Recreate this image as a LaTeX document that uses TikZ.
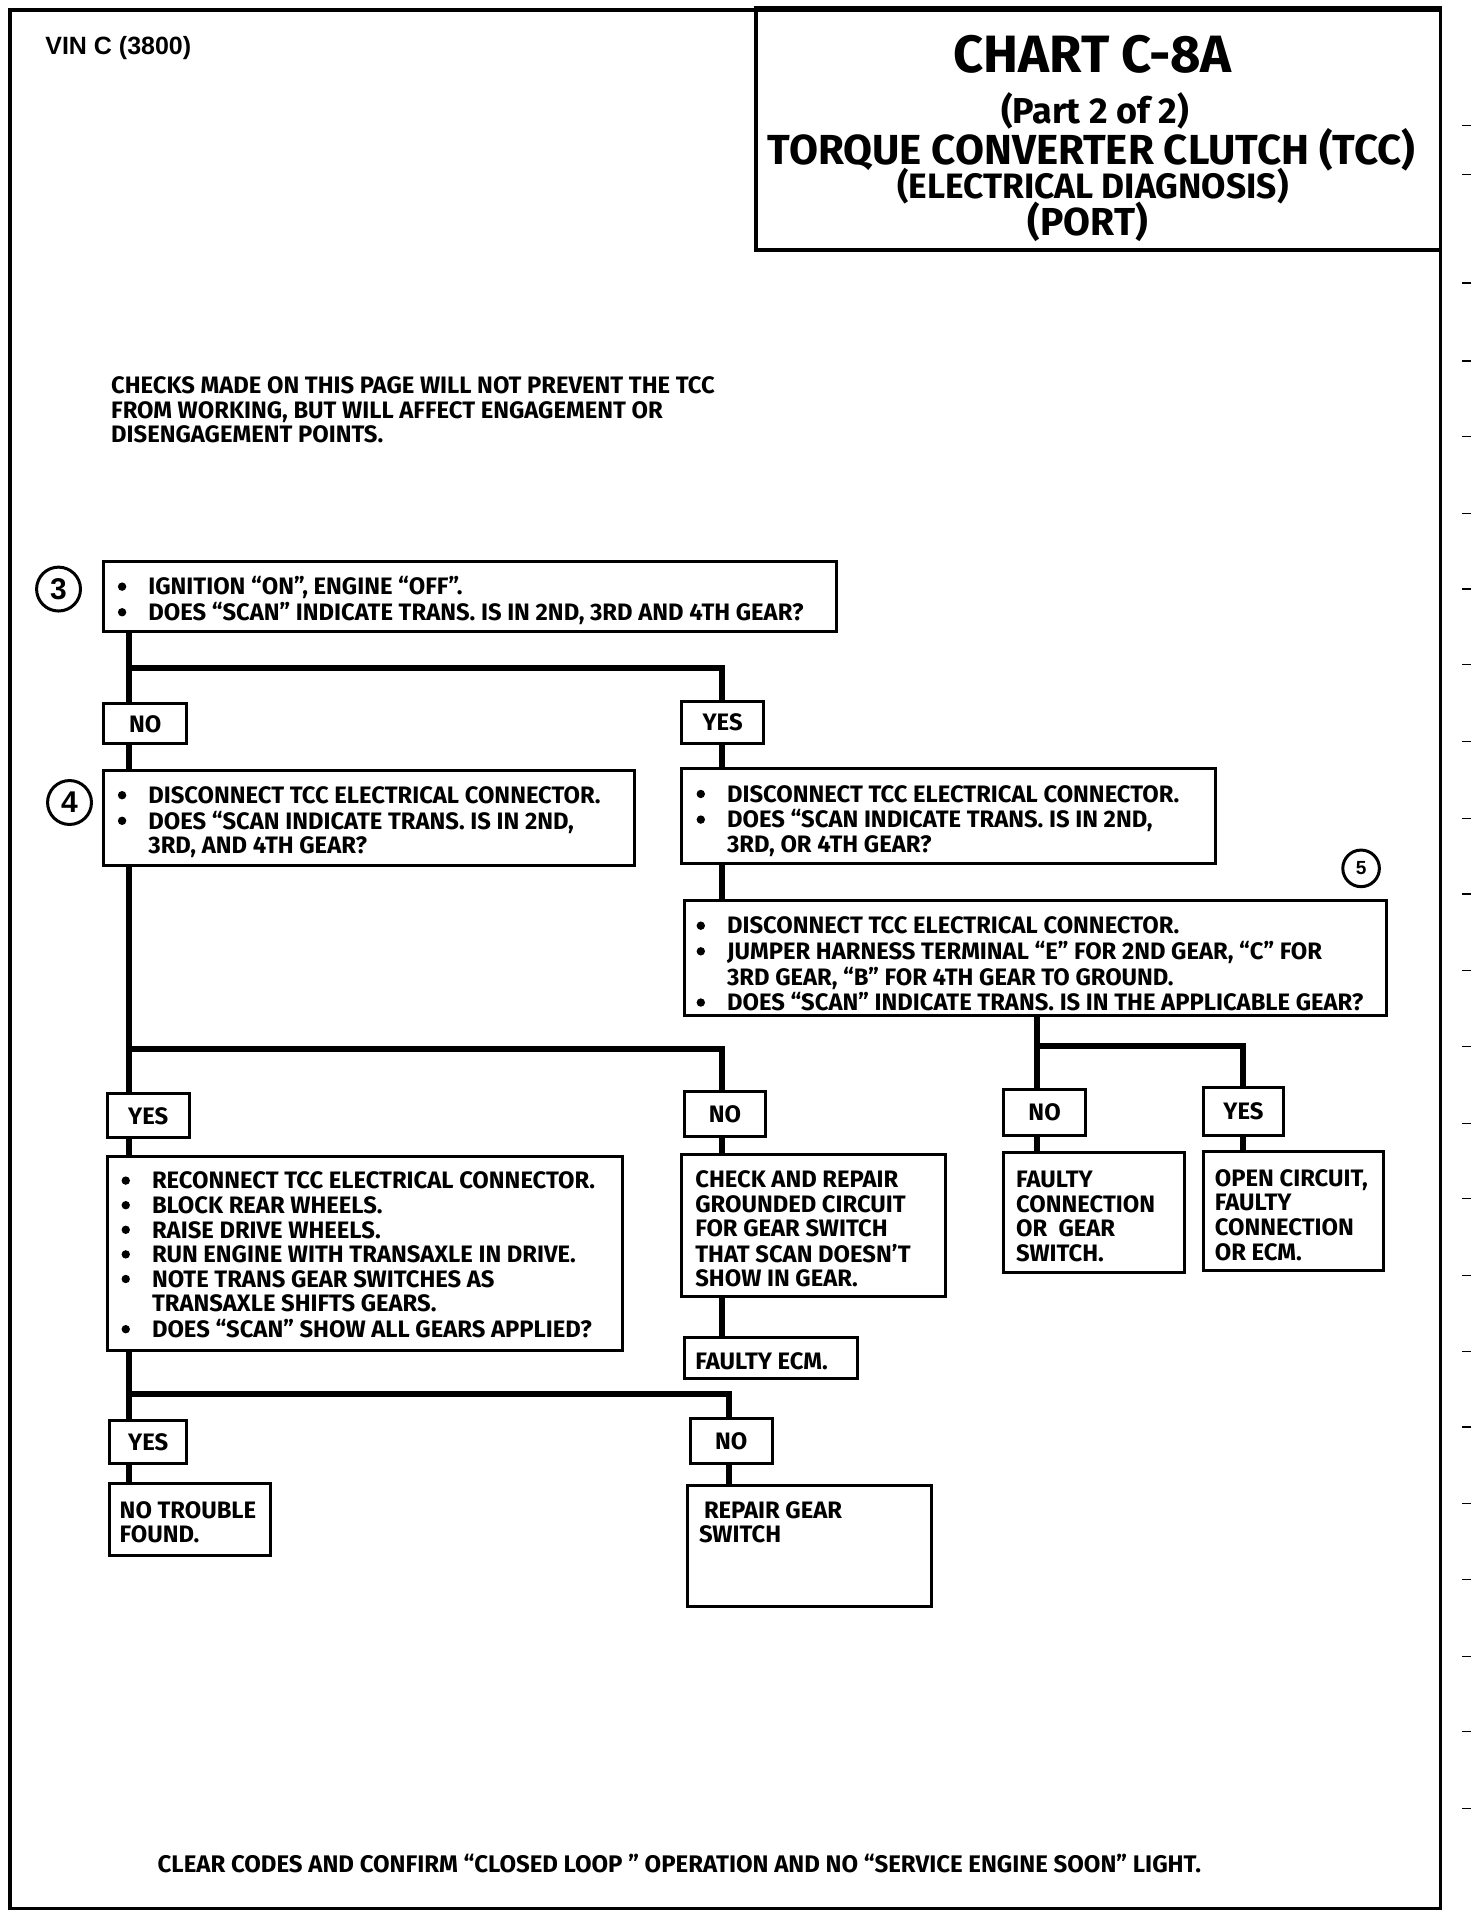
\documentclass[tikz,border=0pt]{standalone}
\usepackage{fontspec}
\usetikzlibrary{fit}
\newfontfamily\bodyf{Fira Sans}
\newfontfamily\arialf{Liberation Sans}
\newcommand\bodyfont{\bodyf\bfseries\fontsize{23.8}{24.6}\selectfont}
\newcommand\bul{\tikz[baseline=0pt]\fill (4.2pt,8.2pt) circle (4.2pt);}
\tikzset{
  box/.style={draw, line width=3pt, inner sep=0pt},
  conn/.style={line width=6pt, line join=miter},
  txt/.style={anchor=base west, inner sep=0pt, font=\bodyfont, yshift=-1.5pt},
  lbl/.style={inner sep=0pt, font=\bodyfont},
  ttl/.style={anchor=base, inner sep=0pt},
  circ/.style={draw, circle, line width=3pt, inner sep=0pt, font=\arialf\bfseries\fontsize{30}{30}\selectfont},
  tick/.style={line width=1.2pt}
}
\begin{document}
\begin{tikzpicture}[x=1.2196pt, y=-1.2196pt]
\useasboundingbox (0,0) rectangle (1207,1571);
% frame
\draw[line width=3.5pt] (8,8) rectangle (1181,1565);
\foreach \yy in {103,143,232,296,358,421,483,545,608,671,733,796,858,921,983,1046,1108,1170,1233,1295,1358,1420,1483}
  \draw[tick] (1199,\yy) -- (1206,\yy);
% header
\node[anchor=base west, inner sep=0pt, font=\arialf\bfseries\fontsize{25}{25}\selectfont] (vin) at (37,45) {VIN C (3800)};
\node[box, line width=3.5pt, fit={(620,6) (1181,205)}] (title) {};
\node[ttl, font=\bodyf\bfseries\fontsize{52.5}{52}\selectfont] (t1) at (896,59.5) {CHART C-8A};
\node[ttl, font=\bodyf\bfseries\fontsize{36}{36}\selectfont] (t2) at (898,101) {(Part 2 of 2)};
\node[ttl, font=\bodyf\bfseries\fontsize{42}{42}\selectfont] (t3) at (895,134.5) {TORQUE CONVERTER CLUTCH (TCC)};
\node[ttl, font=\bodyf\bfseries\fontsize{35.3}{35}\selectfont] (t4) at (896,162.5) {(ELECTRICAL DIAGNOSIS)};
\node[ttl, font=\bodyf\bfseries\fontsize{39}{39}\selectfont] (t5) at (892,193) {(PORT)};
% note
\node[txt] (note) at (91,321.5) {\begin{tabular}[t]{@{}l@{}}CHECKS MADE ON THIS PAGE WILL NOT PREVENT THE TCC\\ FROM WORKING, BUT WILL AFFECT ENGAGEMENT OR\\ DISENGAGEMENT POINTS.\end{tabular}};
% step 3
\node[circ, minimum size=36*1.2196pt] (c3) at (48,483) {3};
\node[box, fit={(85,460) (686,518)}] (b3) {};
\node[txt] (b3t) at (96.5,486.5) {\begin{tabular}[t]{@{}p{30.5pt}@{}l@{}}\bul & IGNITION “ON”, ENGINE “OFF”.\\ \bul & DOES “SCAN” INDICATE TRANS. IS IN 2ND, 3RD AND 4TH GEAR?\end{tabular}};
\node[box, fit={(85,577) (153,610)}] (no1) {};
\node[lbl] at (no1.center) {NO};
\node[box, fit={(559,575) (626,610)}] (yes1) {};
\node[lbl] at (yes1.center) {YES};
% step 4
\node[circ, minimum size=36*1.2196pt] (c4) at (57,658) {4};
\node[box, fit={(85,632) (520,710)}] (b4) {};
\node[txt] (b4t) at (96.5,657.5) {\begin{tabular}[t]{@{}p{30.5pt}@{}l@{}}\bul & DISCONNECT TCC ELECTRICAL CONNECTOR.\\ \bul & DOES “SCAN INDICATE TRANS. IS IN 2ND,\\ & 3RD, AND 4TH GEAR?\end{tabular}};
\node[box, fit={(559,630) (997,708)}] (by1) {};
\node[txt] (by1t) at (571,656.5) {\begin{tabular}[t]{@{}p{30.5pt}@{}l@{}}\bul & DISCONNECT TCC ELECTRICAL CONNECTOR.\\ \bul & DOES “SCAN INDICATE TRANS. IS IN 2ND,\\ & 3RD, OR 4TH GEAR?\end{tabular}};
% step 5
\node[circ, minimum size=30*1.2196pt, font=\arialf\bfseries\fontsize{19}{19}\selectfont] (c5) at (1116,712) {5};
\node[box, fit={(561,738) (1137,833)}] (b5) {};
\node[txt] (b5t) at (571,764.5) {\begin{tabular}[t]{@{}p{30.5pt}@{}l@{}}\bul & DISCONNECT TCC ELECTRICAL CONNECTOR.\\ \bul & JUMPER HARNESS TERMINAL “E” FOR 2ND GEAR, “C” FOR\\ & 3RD GEAR, “B” FOR 4TH GEAR TO GROUND.\\ \bul & DOES “SCAN” INDICATE TRANS. IS IN THE APPLICABLE GEAR?\end{tabular}};
\node[box, fit={(823,893) (890,931)}] (no5) {};
\node[lbl] at (no5.center) {NO};
\node[box, fit={(987,892) (1052,931)}] (yes5) {};
\node[lbl] at (yes5.center) {YES};
\node[box, fit={(823,945) (971,1043)}] (fc) {};
\node[txt] (fct) at (833,972.5) {\begin{tabular}[t]{@{}l@{}}FAULTY\\ CONNECTION\\ OR\ \ GEAR\\ SWITCH.\end{tabular}};
\node[box, fit={(987,944) (1134,1042)}] (oc) {};
\node[txt] (oct) at (996,971.5) {\begin{tabular}[t]{@{}l@{}}OPEN CIRCUIT,\\ FAULTY\\ CONNECTION\\ OR ECM.\end{tabular}};
% second row
\node[box, fit={(88,897) (155,933)}] (yes2) {};
\node[lbl] at (yes2.center) {YES};
\node[box, fit={(561,895) (628,932)}] (no2) {};
\node[lbl] at (no2.center) {NO};
\node[box, fit={(88,948) (510,1107)}] (br) {};
\node[txt] (brt) at (99.5,973.5) {\begin{tabular}[t]{@{}p{30.5pt}@{}l@{}}\bul & RECONNECT TCC ELECTRICAL CONNECTOR.\\ \bul & BLOCK REAR WHEELS.\\ \bul & RAISE DRIVE WHEELS.\\ \bul & RUN ENGINE WITH TRANSAXLE IN DRIVE.\\ \bul & NOTE TRANS GEAR SWITCHES AS\\ & TRANSAXLE SHIFTS GEARS.\\ \bul & DOES “SCAN” SHOW ALL GEARS APPLIED?\end{tabular}};
\node[box, fit={(559,947) (775,1063)}] (ck) {};
\node[txt] (ckt) at (570,972.5) {\begin{tabular}[t]{@{}l@{}}CHECK AND REPAIR\\ GROUNDED CIRCUIT\\ FOR GEAR SWITCH\\ THAT SCAN DOESN’T\\ SHOW IN GEAR.\end{tabular}};
\node[box, fit={(561,1097) (703,1130)}] (fe) {};
\node[txt] (fet) at (570,1121.5) {FAULTY ECM.};
% third row
\node[box, fit={(90,1165) (153,1200)}] (yes3) {};
\node[lbl] at (yes3.center) {YES};
\node[box, fit={(566,1163) (633,1200)}] (no3) {};
\node[lbl] at (no3.center) {NO};
\node[box, fit={(90,1216) (222,1275)}] (nt) {};
\node[txt] (ntt) at (98,1243.5) {\begin{tabular}[t]{@{}l@{}}NO TROUBLE\\ FOUND.\end{tabular}};
\node[box, fit={(564,1218) (764,1317)}] (rg) {};
\node[txt] (rgt) at (573,1243.5) {\begin{tabular}[t]{@{}l@{}}\hspace{5pt}REPAIR GEAR\\ SWITCH\end{tabular}};
% footer
\node[ttl, font=\bodyf\bfseries\fontsize{24}{25}\selectfont] (foot) at (557,1535.5) {CLEAR CODES AND CONFIRM “CLOSED LOOP ” OPERATION AND NO “SERVICE ENGINE SOON” LIGHT.};
% connectors
\coordinate (j1) at (106,548);
\coordinate (k1) at (592,548);
\coordinate (j2) at (106,860);
\coordinate (k2) at (592,860);
\coordinate (j3) at (850,858);
\coordinate (k3) at (1019,858);
\coordinate (j4) at (106,1143);
\coordinate (k4) at (598,1143);
\draw[conn] (b3.south -| j1) -- (no1.north -| j1);
\draw[conn] (j1) -- (k1) -- (yes1.north -| k1);
\draw[conn] (no1.south -| j1) -- (b4.north -| j1);
\draw[conn] (yes1.south -| k1) -- (by1.north -| k1);
\draw[conn] (by1.south -| k1) -- (b5.north -| k1);
\draw[conn] (b5.south -| j3) -- (no5.north -| j3);
\draw[conn] (j3) -- (k3) -- (yes5.north -| k3);
\draw[conn] (no5.south -| j3) -- (fc.north -| j3);
\draw[conn] (yes5.south -| k3) -- (oc.north -| k3);
\draw[conn] (b4.south -| j2) -- (yes2.north -| j2);
\draw[conn] (j2) -- (k2) -- (no2.north -| k2);
\draw[conn] (yes2.south -| j2) -- (br.north -| j2);
\draw[conn] (no2.south -| k2) -- (ck.north -| k2);
\draw[conn] (ck.south -| k2) -- (fe.north -| k2);
\draw[conn] (br.south -| j4) -- (yes3.north -| j4);
\draw[conn] (j4) -- (k4) -- (no3.north -| k4);
\draw[conn] (yes3.south -| j4) -- (nt.north -| j4);
\draw[conn] (no3.south -| k4) -- (rg.north -| k4);
\end{tikzpicture}
\end{document}
